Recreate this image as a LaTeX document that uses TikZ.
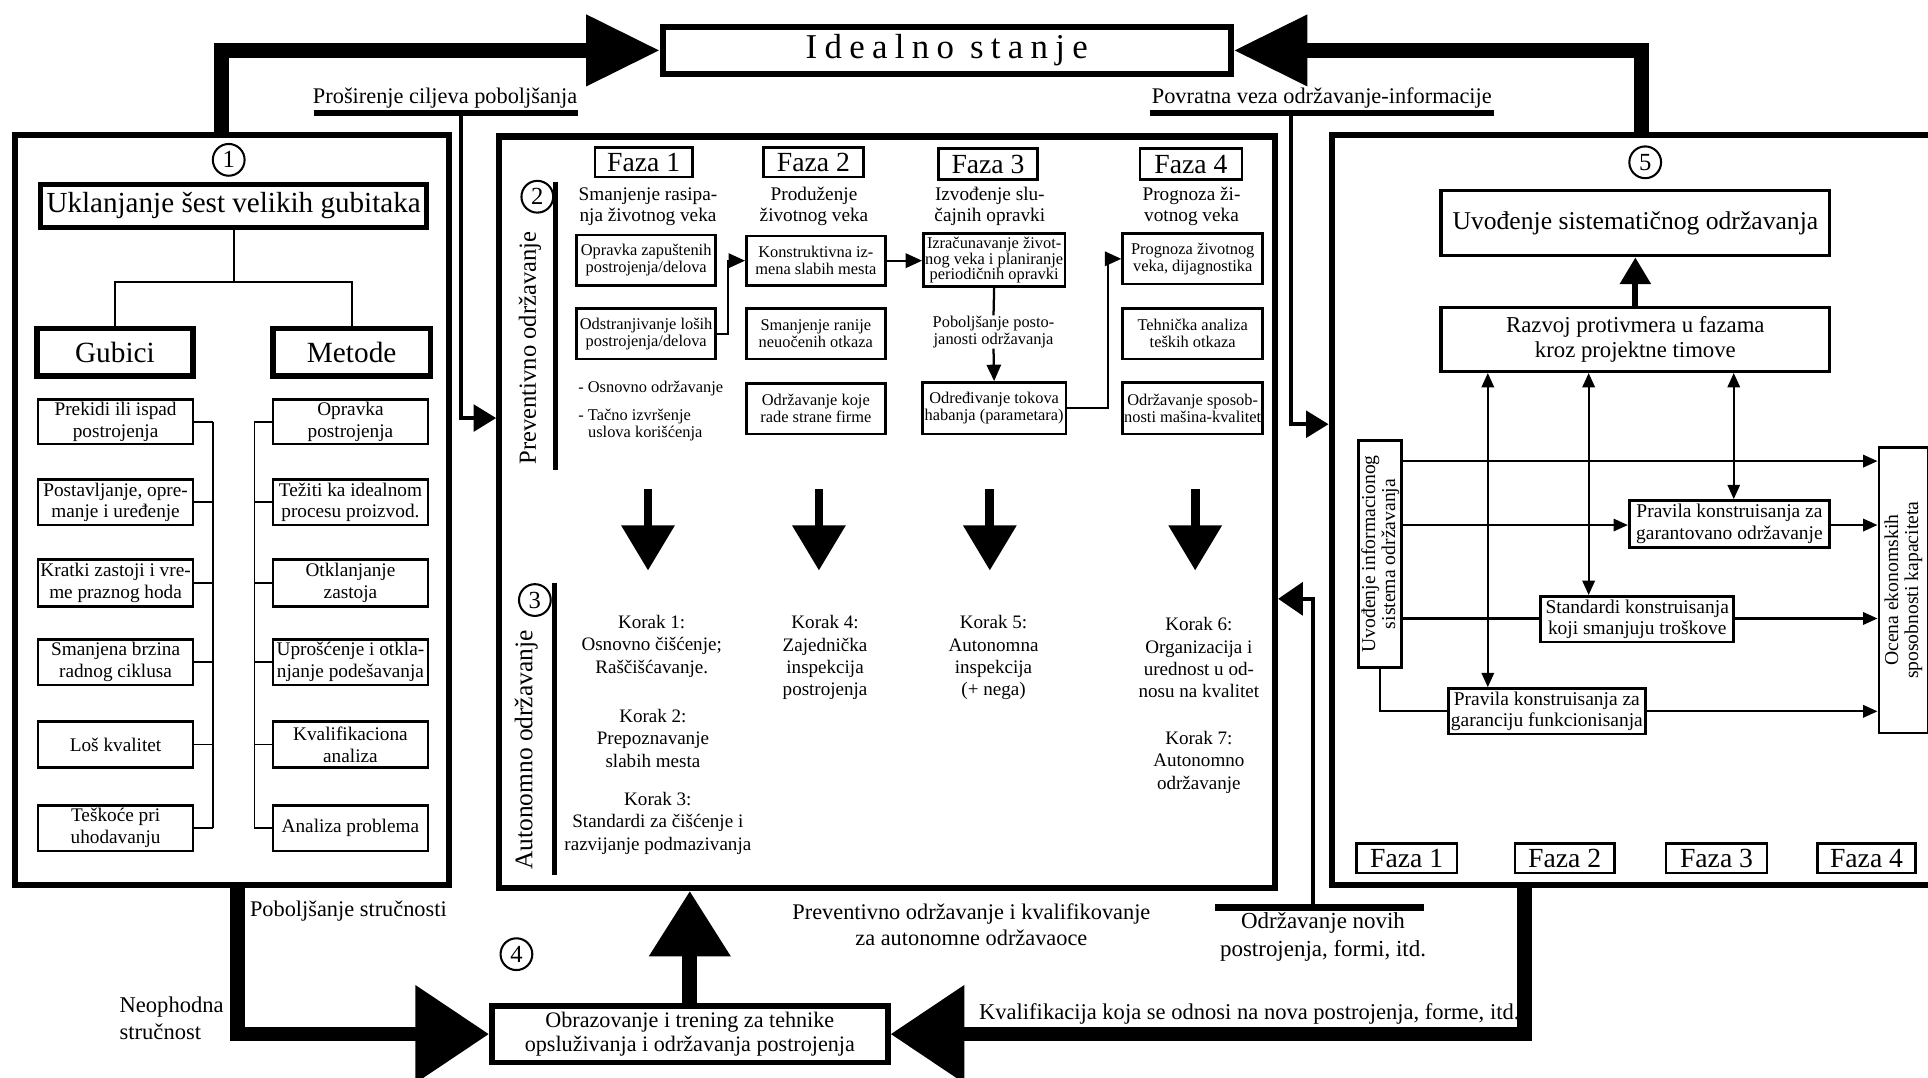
\documentclass[tikz,border=0pt]{standalone}
\usepackage{fontspec}
\setmainfont{Liberation Serif}
\usetikzlibrary{arrows.meta,calc}
\newcommand\setfs[2]{\fontsize{#1}{#2}\selectfont}

\begin{document}
\begin{tikzpicture}[x=0.6pt,y=-0.6pt,line join=miter,
  sz/.style 2 args={minimum width=#1*0.6pt,minimum height=#2*0.6pt},
  frame/.style={draw,line width=3pt,inner sep=0pt},
  heavy/.style={draw,line width=2.7pt,inner sep=0pt,align=center},
  item/.style={draw,line width=1.3pt,inner sep=0pt,align=center,font=\setfs{9.4}{10.6}},
  pbox/.style={draw,line width=1.3pt,inner sep=0pt,align=center,font=\setfs{8}{8.3}},
  sbox/.style={draw,line width=1.3pt,inner sep=0pt,align=center,font=\setfs{9.5}{10.4}},
  faza/.style={draw,line width=1.3pt,inner sep=0pt,font=\setfs{13.5}{14}},
  num/.style={draw,circle,line width=1pt,inner sep=0pt,minimum size=15.5pt,font=\setfs{12}{12}},
  lbl/.style={inner sep=0pt,align=center},
  thin/.style={line width=0.9pt},
  conn/.style={line width=1.1pt},
  midline/.style={line width=1.8pt},
  bar/.style={line width=3pt},
  sa/.style={conn,-{Triangle[length=7pt,width=6pt]}},
  dbl/.style={conn,{Triangle[length=7pt,width=6pt]}-{Triangle[length=7pt,width=6pt]}},
  tipM/.style={midline,-{Triangle[length=11pt,width=13pt]}},
  bigarrow/.style={line width=7.2pt,-{Triangle[length=36pt,width=33pt]}},
  bigarrowB/.style={line width=7.2pt,-{Triangle[length=36pt,width=46pt]}},
  bigup/.style={line width=7.2pt,-{Triangle[length=32pt,width=38pt]}},
  downarrow/.style={line width=4.3pt,-{Triangle[length=22pt,width=25pt]}},
  upmid/.style={line width=3pt,-{Triangle[length=13pt,width=14.5pt]}}]
\useasboundingbox (0,0) rectangle (1568,876);

% ---------- main frames ----------
\node[frame,sz={353}{610}] (f1) at (188.5,415) {};
\node[frame,sz={631}{611}] (f2) at (721.5,416.5) {};
\node[frame,sz={497}{610}] (f5) at (1331.5,415) {};

% ---------- goal ----------
\node[heavy,sz={462}{38},font=\setfs{17}{17}\addfontfeatures{LetterSpace=21}] (ideal) at (770,41) {Idealno stanje};
\coordinate (tlx) at (180,0);
\coordinate (trx) at (1335,0);
\draw[bigarrow] (f1.north -| tlx) |- (ideal.west);
\draw[bigarrow] (f5.north -| trx) |- (ideal.east);

% ---------- feed lines ----------
\node[lbl,font=\setfs{10.9}{12}] (ext) at (362,80) {Proširenje ciljeva poboljšanja};
\coordinate (extL) at (255,92); \coordinate (extR) at (470,92);
\draw[bar] (extL) -- (extR);
\coordinate (extJ) at (375,92); \coordinate (extT) at (375,340);
\draw[tipM] (extJ) -- (extT) -- (f2.west |- extT);

\node[lbl,font=\setfs{10.9}{12}] (fb) at (1075,80) {Povratna veza održavanje-informacije};
\coordinate (fbL) at (935,92); \coordinate (fbR) at (1215,92);
\draw[bar] (fbL) -- (fbR);
\coordinate (fbJ) at (1050,92); \coordinate (fbT) at (1050,345);
\draw[tipM] (fbJ) -- (fbT) -- (f5.west |- fbT);

\node[lbl,font=\setfs{11.2}{13.4}] (nov) at (1076,762) {Održavanje novih\\postrojenja, formi, itd.};
\coordinate (novL) at (988,738); \coordinate (novR) at (1158,738);
\draw[bar] (novL) -- (novR);
\coordinate (novJ) at (1068,738); \coordinate (novT) at (1068,487);
\draw[midline,-{Triangle[length=12pt,width=16pt]}] (novJ) -- (novT) -- (f2.east |- novT);

% ---------- block 1 ----------
\node[num] (n1) at (186,130) {1};
\node[heavy,sz={314}{35},font=\setfs{14.2}{15}] (ukl) at (190,167.5) {Uklanjanje šest velikih gubitaka};
\node[heavy,sz={127}{39},font=\setfs{14.3}{15}] (gub) at (93.5,286.5) {Gubici};
\node[heavy,sz={128}{39},font=\setfs{14.3}{15}] (met) at (286,286.5) {Metode};
\draw[thin] (ukl.south) -- ++(0,42) coordinate (tj);
\draw[thin] (gub.north) |- (tj) -| (met.north);

\node[item,sz={126}{36}] (la) at (94,343) {Prekidi ili ispad\\postrojenja};
\node[item,sz={126}{37}] (lb) at (94,408.5) {Postavljanje, opre-\\manje i uređenje};
\node[item,sz={126}{38}] (lc) at (94,474) {Kratki zastoji i vre-\\me praznog hoda};
\node[item,sz={126}{37}] (ld) at (94,538.5) {Smanjena brzina\\radnog ciklusa};
\node[item,sz={126}{37}] (le) at (94,605.5) {Loš kvalitet};
\node[item,sz={126}{37}] (lf) at (94,673.5) {Teškoće pri\\uhodavanju};

\node[item,sz={126}{36}] (ra) at (285,343) {Opravka\\postrojenja};
\node[item,sz={126}{37}] (rb) at (285,408.5) {Težiti ka idealnom\\procesu proizvod.};
\node[item,sz={126}{38}] (rc) at (285,474) {Otklanjanje\\zastoja};
\node[item,sz={126}{37}] (rd) at (285,538.5) {Uprošćenje i otkla-\\njanje podešavanja};
\node[item,sz={126}{37}] (re) at (285,605.5) {Kvalifikaciona\\analiza};
\node[item,sz={126}{37}] (rf) at (285,673.5) {Analiza problema};

\draw[thin] (la.east) -- ++(15,0) coordinate (lt);
\draw[thin] (lt) -- (lt |- lf.east);
\foreach \b in {lb,lc,ld,le,lf} \draw[thin] (\b.east) -- (\b.east -| lt);
\draw[thin] (ra.west) -- ++(-14,0) coordinate (rt);
\draw[thin] (rt) -- (rt |- rf.west);
\foreach \b in {rb,rc,rd,re,rf} \draw[thin] (\b.west) -- (\b.west -| rt);

% ---------- block 2 : preventive ----------
\node[num] (n2) at (437,160) {2};
\node[lbl,rotate=90,font=\setfs{12}{12}] (prev) at (431,283) {Preventivno održavanje};
\coordinate (pvT) at (452,148); \coordinate (pvB) at (452,382);
\draw[line width=2.4pt] (pvT) -- (pvB);

\node[faza,sz={79}{24}] (z1) at (523.5,132) {Faza 1};
\node[faza,sz={81}{24}] (z2) at (661.5,132) {Faza 2};
\node[faza,sz={81}{25}] (z3) at (803.5,133.5) {Faza 3};
\node[faza,sz={83}{25}] (z4) at (968.5,133.5) {Faza 4};

\node[lbl,font=\setfs{9.4}{10}] (h1) at (527,168) {Smanjenje rasipa-\\nja životnog veka};
\node[lbl,font=\setfs{9.4}{10}] (h2) at (662,168) {Produženje\\životnog veka};
\node[lbl,font=\setfs{9.4}{10}] (h3) at (805,168) {Izvođenje slu-\\čajnih opravki};
\node[lbl,font=\setfs{9.4}{10}] (h4) at (969,168) {Prognoza ži-\\votnog veka};

\node[pbox,sz={113}{41}] (p1a) at (525.5,211.5) {Opravka zapuštenih\\postrojenja/delova};
\node[pbox,sz={113}{41}] (p1b) at (525.5,271.5) {Odstranjivanje loših\\postrojenja/delova};
\node[lbl,anchor=west,font=\setfs{8}{8.3}] (o1) at (470,316) {- Osnovno održavanje};
\node[lbl,anchor=north west,align=left,font=\setfs{8}{8.6}] (o2) at (470,332) {- Tačno izvršenje\\\hspace*{0.6em}uslova korišćenja};

\node[pbox,sz={113}{40}] (p2a) at (663.5,212) {Konstruktivna iz-\\mena slabih mesta};
\node[pbox,sz={113}{41}] (p2b) at (663.5,271.5) {Smanjenje ranije\\neuočenih otkaza};
\node[pbox,sz={113}{41}] (p2c) at (663.5,332.5) {Održavanje koje\\rade strane firme};

\node[pbox,sz={115}{43},font=\setfs{8}{7.6}] (p3a) at (808.5,211.5) {Izračunavanje život-\\nog veka i planiranje\\periodičnih opravki};
\node[lbl,font=\setfs{8}{8.6}] (p3l) at (808,270) {Poboljšanje posto-\\janosti održavanja};
\node[pbox,sz={117}{42}] (p3b) at (808.5,332) {Određivanje tokova\\habanja (parametara)};

\node[pbox,sz={114}{41}] (p4a) at (970,210.5) {Prognoza životnog\\veka, dijagnostika};
\node[pbox,sz={114}{41}] (p4b) at (970,271.5) {Tehnička analiza\\teških otkaza};
\node[pbox,sz={114}{42}] (p4c) at (970,332) {Održavanje sposob-\\nosti mašina-kvalitet};

\draw[conn,-{Triangle[length=8pt,width=7pt]}] (p1b.east) -- ++(9,0) |- (p2a.west);
\draw[conn,-{Triangle[length=8pt,width=7pt]}] (p2a.east) -- (p3a.west |- p2a.east);
\draw[conn] (p3a.south) -- (p3l.north);
\draw[conn,-{Triangle[length=8pt,width=7pt]}] (p3l.south) -- (p3b.north);
\draw[conn,-{Triangle[length=8pt,width=7pt]}] (p3b.east) -- ++(33,0) |- (p4a.west);

% transition arrows
\foreach \i/\x in {1/527,2/666,3/805,4/972}{
  \coordinate (da\i) at (\x,398);
  \coordinate (db\i) at (\x,464);
  \draw[downarrow] (da\i) -- (db\i);
}

% ---------- block 3 : autonomous ----------
\node[num] (n3) at (435,488) {3};
\node[lbl,rotate=90,font=\setfs{12.4}{12}] (auto) at (428,610) {Autonomno održavanje};
\coordinate (auT) at (451,474); \coordinate (auB) at (451,712);
\draw[line width=2.4pt] (auT) -- (auB);

\begin{scope}[every node/.style={lbl,font=\setfs{9.3}{10.9}}]
\node (k1) at (530,525.5) {Korak 1:\\Osnovno čišćenje;\\Raščišćavanje.};
\node (k2) at (531,600.5) {Korak 2:\\Prepoznavanje\\slabih mesta};
\node (k3) at (535,669.5) {Korak 3:\\Standardi za čišćenje i\\razvijanje podmazivanja};
\node (k4) at (671,535) {Korak 4:\\Zajednička\\inspekcija\\postrojenja};
\node (k5) at (808,535) {Korak 5:\\Autonomna\\inspekcija\\(+ nega)};
\node (k6) at (975,535) {Korak 6:\\Organizacija i\\urednost u od-\\nosu na kvalitet};
\node (k7) at (975,620) {Korak 7:\\Autonomno\\održavanje};
\end{scope}

% ---------- block 4 : training ----------
\node[heavy,sz={322}{46},font=\setfs{10.8}{11.4}] (obr) at (561,841) {Obrazovanje i trening za tehnike\\opsluživanja i održavanja postrojenja};
\node[num] (n4) at (420,776) {4};
\draw[bigup] (obr.north) -- (obr.north |- f2.south);
\coordinate (pbx) at (193,0);
\coordinate (prx) at (1240,0);
\draw[bigarrowB] (f1.south -| pbx) |- (obr.west);
\draw[bigarrowB] (f5.south -| prx) |- (obr.east);

\node[lbl,anchor=west,font=\setfs{10.9}{12}] (pob) at (203,741) {Poboljšanje stručnosti};
\node[lbl,anchor=west,align=left,font=\setfs{11}{13}] (neo) at (97,828) {Neophodna\\stručnost};
\node[lbl,font=\setfs{10.9}{12.8}] (pok) at (790,752) {Preventivno održavanje i kvalifikovanje\\za autonomne održavaoce};
\node[lbl,anchor=east,font=\setfs{11}{12}] (kva) at (1236,825) {Kvalifikacija koja se odnosi na nova postrojenja, forme, itd.};

% ---------- block 5 : systematic maintenance ----------
\node[num] (n5) at (1338,132) {5};
\node[draw,line width=1.6pt,sz={316}{53},font=\setfs{12.5}{13}] (uvo) at (1330,181.5) {Uvođenje sistematičnog održavanja};
\node[draw,line width=1.6pt,sz={316}{52},align=center,font=\setfs{11.1}{12.6}] (raz) at (1330,276) {Razvoj protivmera u fazama\\kroz projektne timove};
\draw[upmid] (raz.north) -- (uvo.south);

\node[draw,line width=1.3pt,sz={35}{185}] (info) at (1122.5,450.5) {};
\node[lbl,rotate=90,font=\setfs{9.6}{9.8}] (infot) at (info.center) {Uvođenje informacionog\\sistema održavanja};
\node[draw,line width=1.3pt,sz={40}{232}] (oce) at (1548,480) {};
\node[lbl,rotate=90,font=\setfs{9.6}{9.8}] (ocet) at (oce.center) {Ocena ekonomskih\\sposobnosti kapaciteta};

\node[sbox,sz={163}{38}] (pg) at (1406.5,426) {Pravila konstruisanja za\\garantovano održavanje};
\node[sbox,sz={157}{37}] (st) at (1331.5,503.5) {Standardi konstruisanja\\koji smanjuju troškove};
\node[sbox,sz={160}{37}] (pf) at (1258,578.5) {Pravila konstruisanja za\\garanciju funkcionisanja};

\coordinate (v1) at (1210,0); \coordinate (v2) at (1292,0); \coordinate (v3) at (1410,0);
\draw[dbl] (raz.south -| v1) -- (pf.north -| v1);
\draw[dbl] (raz.south -| v2) -- (st.north -| v2);
\draw[dbl] (raz.south -| v3) -- (pg.north -| v3);

\coordinate (hy1) at (0,375); \coordinate (hy2) at (0,427); \coordinate (hy3) at (0,503);
\draw[sa] (info.east |- hy1) -- (oce.west |- hy1);
\draw[sa] (info.east |- hy2) -- (pg.west |- hy2);
\draw[sa] (pg.east |- hy2) -- (oce.west |- hy2);
\draw[conn] (info.east |- hy3) -- (st.west |- hy3);
\draw[sa] (st.east |- hy3) -- (oce.west |- hy3);
\draw[conn] (info.south) |- (pf.west);
\draw[sa] (pf.east) -- (oce.west |- pf.east);

\node[faza,sz={82}{24}] (y1) at (1144,698) {Faza 1};
\node[faza,sz={81}{24}] (y2) at (1272.5,698) {Faza 2};
\node[faza,sz={82}{24}] (y3) at (1396,698) {Faza 3};
\node[faza,sz={80}{24}] (y4) at (1518,698) {Faza 4};
\end{tikzpicture}
\end{document}
